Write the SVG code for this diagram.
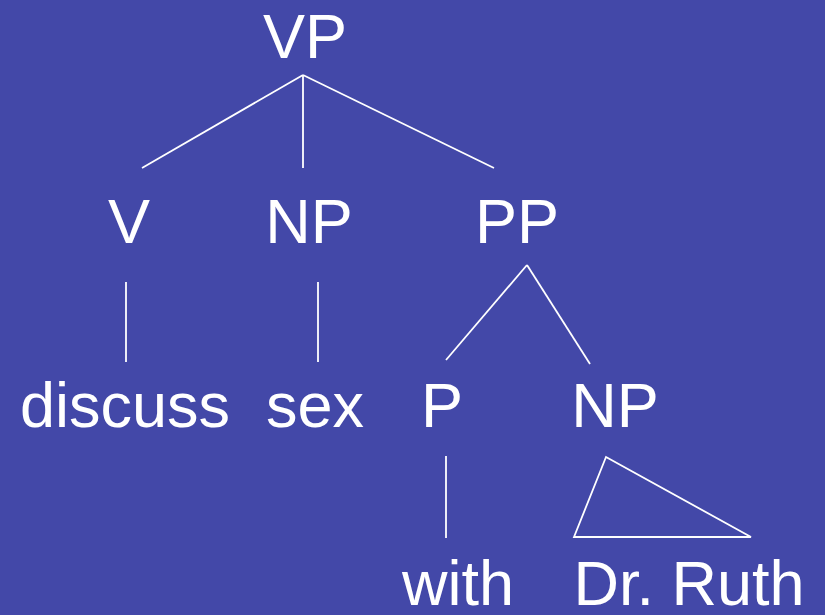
<svg xmlns="http://www.w3.org/2000/svg" width="825" height="615" viewBox="0 0 825 615">
<style>
text{font-family:"Liberation Sans",Arial,sans-serif;font-size:63px;fill:#fff;text-anchor:middle}
line,polygon{stroke:#fff;stroke-width:1.8;fill:none}
</style>
<rect width="825" height="615" fill="#4348a8"/>
<g id="connectors">
<line x1="303" y1="75" x2="142" y2="168"/>
<line x1="303" y1="75" x2="303" y2="168"/>
<line x1="303" y1="75" x2="494" y2="168"/>
<line x1="126" y1="282" x2="126" y2="362"/>
<line x1="318" y1="282" x2="318" y2="362"/>
<line x1="527" y1="265" x2="446" y2="360"/>
<line x1="527" y1="265" x2="590" y2="364"/>
<line x1="446" y1="456" x2="446" y2="538"/>
</g>
<g id="n-vp"><text x="305" y="58">VP</text></g>
<g id="n-v"><text x="129" y="243">V</text></g>
<g id="n-np1"><text x="309" y="243">NP</text></g>
<g id="n-pp"><text x="517" y="243">PP</text></g>
<g id="n-discuss"><text x="125" y="427">discuss</text></g>
<g id="n-sex"><text x="315" y="427">sex</text></g>
<g id="n-p"><text x="442" y="427">P</text></g>
<g id="n-np2"><text x="615" y="427">NP</text></g>
<g id="n-triangle"><polygon points="606,457 574,537 751,537"/></g>
<g id="n-with"><text x="458" y="605">with</text></g>
<g id="n-drruth"><text x="689" y="605">Dr. Ruth</text></g>
</svg>
